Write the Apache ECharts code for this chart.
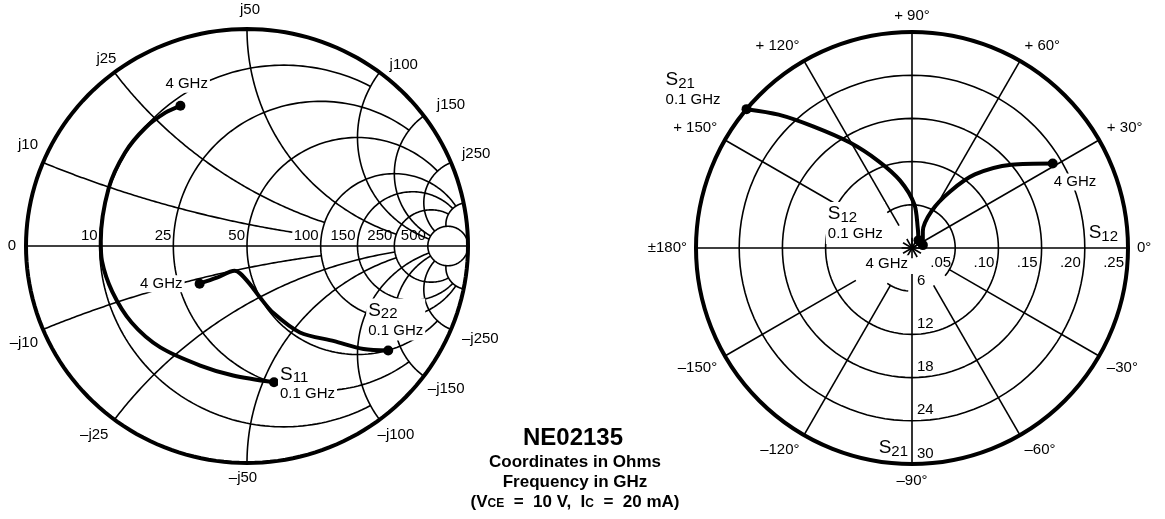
<!DOCTYPE html>
<html>
<head>
<meta charset="utf-8">
<title>NE02135 S-parameters</title>
<script src="https://cdn.jsdelivr.net/npm/echarts@6/dist/echarts.min.js"></script>
<style>
  html, body { margin: 0; padding: 0; background: #fff; }
  #chart { width: 1165px; height: 519px; }
</style>
</head>
<body>
<div id="chart"></div>
<script>
// ---- Measured S-parameters, 0.1 GHz to 4 GHz (magnitude, angle in degrees) ----
const s11Mag = [0.64, 0.60, 0.59, 0.61, 0.63, 0.645, 0.66, 0.662, 0.68, 0.70, 0.713, 0.717, 0.713];
const s11Ang = [-79, -96, -111, -130, -146, -161, -174, 178, 157, 142, 130, 121, 115];
const s22Mag = [0.80, 0.71, 0.59, 0.465, 0.33, 0.245, 0.175, 0.13, 0.127, 0.20, 0.276];
const s22Ang = [-37, -42, -48, -59, -69, -76, -86, -104, -116, -133, -141];
const s21Mag = [30, 26.2, 21.7, 17.0, 12.9, 9.5, 6.1, 2.9, 1.4];
const s21Ang = [140, 135, 129, 120.5, 111, 100, 87, 74, 50];
const s12Mag = [0.013, 0.023, 0.049, 0.079, 0.112, 0.150, 0.19];
const s12Ang = [15, 57, 62, 56, 49.5, 40, 31];

// ---- Smith chart grid (ohms, Z0 = 50) ----
const Z0 = 50;
const resistanceOhms = [10, 25, 50, 100, 150, 250, 500];
const resistanceStopX = [100, 150, 250, 500, 500, 500, Infinity];
const reactanceOhms = [10, 25, 50, 100, 150, 250, 500];
const reactanceStopUpper = [75, 100, 250, 500, 500, 500, 500];
const reactanceStopLower = [100, 250, 250, 500, 500, 500, 500];
const resistanceLabels = ['0', '10', '25', '50', '100', '150', '250', '500'];
const resistanceLabelValues = [0, 10, 25, 50, 100, 150, 250, 500];
const reactanceLabelValues = [10, 25, 50, 100, 150, 250];

// ---- Polar chart scales ----
const s12Rings = [0.05, 0.10, 0.15, 0.20, 0.25];
const s12RingLabels = ['.05', '.10', '.15', '.20', '.25'];
const s21Rings = [6, 12, 18, 24, 30];
const angleTicks = [0, 30, 60, 90, 120, 150, 180, 210, 240, 270, 300, 330];
const angleTickLabels = ['0°', '+ 30°', '+ 60°', '+ 90°', '+ 120°', '+ 150°', '±180°', '–150°', '–120°', '–90°', '–60°', '–30°'];

const FONT = '"Liberation Sans", Arial, Helvetica, sans-serif';
const INK = '#000';
const rad = d => d * Math.PI / 180;

// normalized impedance -> reflection coefficient
function gam(r, x) {
  const d = (r + 1) * (r + 1) + x * x;
  return [(r * r + x * x - 1) / d, 2 * x / d];
}
// constant-resistance circle, both halves, cut where |X| reaches xStop
function resistanceCircle(R, xStop) {
  const r = R / Z0, c = r / (1 + r), rr = 1 / (1 + r);
  let a = 0;
  if (isFinite(xStop)) { const g = gam(r, xStop / Z0); a = Math.atan2(g[1], g[0] - c); }
  const pts = [], n = 160;
  for (let i = 0; i <= n; i++) {
    const t = a + (2 * Math.PI - 2 * a) * i / n;
    pts.push([c + rr * Math.cos(t), rr * Math.sin(t)]);
  }
  return pts;
}
// constant-reactance arc from the rim (R = 0) to R = rStop
function reactanceArc(X, rStop) {
  const x = X / Z0, cy = 1 / x, rr = Math.abs(1 / x);
  const ang = r => {
    const g = gam(r, x);
    let p = Math.atan2(g[1] - cy, g[0] - 1);
    if (x > 0 && p > 0) p -= 2 * Math.PI;
    if (x < 0 && p < 0) p += 2 * Math.PI;
    return p;
  };
  const p0 = ang(0);
  const p1 = isFinite(rStop) ? ang(rStop / Z0) : (x > 0 ? -Math.PI / 2 : Math.PI / 2);
  const pts = [], n = 120;
  for (let i = 0; i <= n; i++) {
    const t = p0 + (p1 - p0) * i / n;
    pts.push([1 + rr * Math.cos(t), cy + rr * Math.sin(t)]);
  }
  return pts;
}

const smithGrid = [];
resistanceOhms.forEach((R, i) => smithGrid.push({ coords: resistanceCircle(R, resistanceStopX[i]) }));
reactanceOhms.forEach((X, i) => {
  smithGrid.push({ coords: reactanceArc(X, reactanceStopUpper[i]) });
  smithGrid.push({ coords: reactanceArc(-X, reactanceStopLower[i]) });
});
smithGrid.push({ coords: [[-1, 0], [1, 0]] });

const rim = [];
for (let i = 0; i <= 360; i += 2) rim.push([Math.cos(rad(i)), Math.sin(rad(i))]);

const toXY = (mag, ang) => mag.map((m, i) => [m * Math.cos(rad(ang[i])), m * Math.sin(rad(ang[i]))]);

const rich = {
  S: { fontSize: 19, fontFamily: FONT, color: INK },
  sub: { fontSize: 15, fontFamily: FONT, color: INK, padding: [7, 0, 0, 0] },
  f: { fontSize: 15, fontFamily: FONT, color: INK, lineHeight: 18 }
};

function endLabel(text, pos, align, vAlign, bg) {
  return {
    show: true, formatter: text, position: pos, align: align, verticalAlign: vAlign,
    rich: rich, fontFamily: FONT, fontSize: 15, color: INK,
    backgroundColor: bg ? '#fff' : 'transparent', padding: bg ? [1, 2] : 0
  };
}

function traceData(points, firstLabel, lastLabel) {
  return points.map((p, i) => {
    const item = { value: p };
    if (i === 0 && firstLabel) item.label = firstLabel;
    if (i === points.length - 1 && lastLabel) item.label = lastLabel;
    return item;
  });
}

const s11Pts = toXY(s11Mag, s11Ang);
const s22Pts = toXY(s22Mag, s22Ang);
const s21Pts = s21Mag.map((m, i) => [m, (s21Ang[i] + 360) % 360]);
const s12Pts = s12Mag.map((m, i) => [m, (s12Ang[i] + 360) % 360]);

const traceStyle = {
  symbol: 'circle',
  smooth: 0.3,
  lineStyle: { color: INK, width: 4 },
  itemStyle: { color: INK, opacity: 1 },
  label: { show: false },
  z: 4,
  animation: false
};
const dotSize = n => (v, p) => (p.dataIndex === 0 || p.dataIndex === n - 1) ? 10 : 0;
const plainLabel = { show: true, fontSize: 15, fontFamily: FONT, color: INK, opacity: 1 };

// Smith axis and rim labels
const axisLabelData = resistanceLabelValues.map((R, i) => ({
  value: [(R / Z0 - 1) / (R / Z0 + 1), 0],
  label: i === 0
    ? { formatter: resistanceLabels[i], position: [-10, 0], align: 'right', verticalAlign: 'middle' }
    : { formatter: resistanceLabels[i], position: [-2, -3], align: 'right', verticalAlign: 'bottom' }
}));
const rimLabelUpper = [
  { position: [-5, -10], align: 'right', verticalAlign: 'bottom' },
  { position: [-8, -6], align: 'center', verticalAlign: 'bottom' },
  { position: [3, -12], align: 'center', verticalAlign: 'bottom' },
  { position: [10, 0], align: 'left', verticalAlign: 'bottom' },
  { position: [13, -3], align: 'left', verticalAlign: 'bottom' },
  { position: [11, -1], align: 'left', verticalAlign: 'bottom' }
];
const rimLabelLower = [
  { position: [-5, 6], align: 'right', verticalAlign: 'top' },
  { position: [-6, 8], align: 'right', verticalAlign: 'top' },
  { position: [-4, 7], align: 'center', verticalAlign: 'top' },
  { position: [-2, 8], align: 'left', verticalAlign: 'top' },
  { position: [4, 5], align: 'left', verticalAlign: 'top' },
  { position: [11, 2], align: 'left', verticalAlign: 'top' }
];
const rimLabelData = [];
reactanceLabelValues.forEach((X, i) => {
  const up = gam(0, X / Z0), dn = gam(0, -X / Z0);
  rimLabelData.push({ value: up, label: Object.assign({ formatter: 'j' + X }, rimLabelUpper[i]) });
  rimLabelData.push({ value: dn, label: Object.assign({ formatter: '–j' + X }, rimLabelLower[i]) });
});

// Polar grid pieces (in S12 units)
const ringArcs = [[0.05, 0, 125], [0.05, 320, 360], [0.05, 235, 265], [0.10, 0, 360], [0.15, 0, 360], [0.20, 0, 360]];
const spokes = [[30, 0], [60, 0.05], [90, 0], [120, 0.03], [150, 0.10], [210, 0.075], [240, 0.05], [270, 0.03], [300, 0.05], [330, 0.05]];
const polarGridSeries = [];
const gridLine = { color: INK, width: 1.6 };
ringArcs.forEach(([r, a0, a1]) => {
  const d = [];
  for (let a = a0; a <= a1; a += 3) d.push([r, a]);
  if (d[d.length - 1][1] !== a1) d.push([r, a1]);
  polarGridSeries.push({ type: 'line', coordinateSystem: 'polar', polarIndex: 0, data: d, showSymbol: false, symbol: 'none', lineStyle: gridLine, silent: true, z: 1, animation: false });
});
spokes.forEach(([a, r0]) => {
  polarGridSeries.push({ type: 'line', coordinateSystem: 'polar', polarIndex: 0, data: [[r0, a], [0.25, a]], symbol: 'none', lineStyle: gridLine, silent: true, z: 1, animation: false });
});
polarGridSeries.push({ type: 'line', coordinateSystem: 'polar', polarIndex: 0, data: [[0.25, 180], [0, 0], [0.25, 0]], symbol: 'none', lineStyle: gridLine, silent: true, z: 1, animation: false });
angleTicks.forEach(a => {
  polarGridSeries.push({ type: 'line', coordinateSystem: 'polar', polarIndex: 0, data: [[0, a], [0.012, a]], symbol: 'none', lineStyle: gridLine, silent: true, z: 1, animation: false });
});

const hiddenAxis = { axisLine: { show: false }, axisTick: { show: false }, axisLabel: { show: false }, splitLine: { show: false } };

const option = {
  backgroundColor: '#fff',
  animation: false,
  textStyle: { fontFamily: FONT, color: INK },
  title: [
    { text: 'NE02135', left: 568, top: 421, textAlign: 'center',
      textStyle: { fontSize: 24, fontWeight: 'bold', color: INK, fontFamily: FONT } },
    { text: 'Coordinates in Ohms\nFrequency in GHz\n(V{s|CE}  =  10 V,  I{s|C}  =  20 mA)', left: 570, top: 447, textAlign: 'center',
      textStyle: { fontSize: 17, fontWeight: 'bold', color: INK, fontFamily: FONT, lineHeight: 20,
        rich: { s: { fontSize: 12, fontWeight: 'bold', fontFamily: FONT, color: INK, padding: [4, 0, 0, 0] } } } }
  ],
  grid: { left: 26, top: 29, width: 442, height: 434 },
  xAxis: { type: 'value', min: -1, max: 1, show: false },
  yAxis: { type: 'value', min: -1, max: 1, show: false },
  polar: [
    { center: [912, 248], radius: 216 },
    { center: [912, 248], radius: 216 }
  ],
  angleAxis: [
    { polarIndex: 0, type: 'value', min: 0, max: 360, interval: 30, startAngle: 0, clockwise: false,
      axisLine: { show: true, lineStyle: { color: INK, width: 4 } },
      axisTick: { show: false }, splitLine: { show: false },
      axisLabel: { show: true, margin: 9, fontSize: 15, fontFamily: FONT, color: INK,
        formatter: v => { const i = angleTicks.indexOf(v); return i >= 0 && v < 360 ? angleTickLabels[i] : ''; } } },
    Object.assign({ polarIndex: 1, type: 'value', min: 0, max: 360, startAngle: 0, clockwise: false }, hiddenAxis)
  ],
  radiusAxis: [
    Object.assign({ polarIndex: 0, type: 'value', min: 0, max: 0.25 }, hiddenAxis),
    Object.assign({ polarIndex: 1, type: 'value', min: 0, max: 30 }, hiddenAxis)
  ],
  series: [
    // Smith chart grid
    { type: 'lines', coordinateSystem: 'cartesian2d', polyline: true, data: smithGrid,
      lineStyle: { color: INK, width: 1.6, opacity: 1 }, silent: true, z: 1, animation: false },
    { type: 'lines', coordinateSystem: 'cartesian2d', polyline: true, data: [{ coords: rim }],
      lineStyle: { color: INK, width: 4, opacity: 1 }, silent: true, z: 2, animation: false },
    // Smith labels
    { type: 'scatter', coordinateSystem: 'cartesian2d', symbolSize: 0, data: axisLabelData.concat(rimLabelData),
      itemStyle: { opacity: 1 }, label: plainLabel, silent: true, z: 6, animation: false },
    // S11 and S22
    Object.assign({ type: 'line', coordinateSystem: 'cartesian2d', name: 'S11', symbolSize: dotSize(s11Pts.length),
      data: traceData(s11Pts,
        endLabel('{S|S}{sub|11}\n{f|0.1 GHz}', [9, -15], 'left', 'top', true),
        endLabel('4 GHz', [-12, -25], 'left', 'top', true)) }, traceStyle),
    Object.assign({ type: 'line', coordinateSystem: 'cartesian2d', name: 'S22', symbolSize: dotSize(s22Pts.length),
      data: traceData(s22Pts,
        endLabel('{S|S}{sub|22}\n{f|0.1 GHz}', [-17, -47], 'left', 'top', true),
        endLabel('4 GHz', [-10, 5], 'right', 'middle', true)) }, traceStyle),
    // polar grid
    ...polarGridSeries,
    // ring labels and scale names
    { type: 'scatter', coordinateSystem: 'polar', polarIndex: 0, symbolSize: 0, itemStyle: { opacity: 1 },
      data: s12Rings.map((r, i) => ({ value: [r, 0], label: { formatter: s12RingLabels[i] } })),
      label: Object.assign({ position: [-4, 7], align: 'right', verticalAlign: 'top' }, plainLabel),
      silent: true, z: 6, animation: false },
    { type: 'scatter', coordinateSystem: 'polar', polarIndex: 1, symbolSize: 0, itemStyle: { opacity: 1 },
      data: s21Rings.map(r => ({ value: [r, 270], label: { formatter: String(r) } })),
      label: Object.assign({ position: [5, -3], align: 'left', verticalAlign: 'bottom' }, plainLabel),
      silent: true, z: 6, animation: false },
    { type: 'scatter', coordinateSystem: 'polar', polarIndex: 0, symbolSize: 0, itemStyle: { opacity: 1 },
      data: [{ value: [0.25, 0] }],
      label: Object.assign({}, plainLabel, { formatter: '{S|S}{sub|12}', position: [-10, -4], align: 'right', verticalAlign: 'bottom', rich: rich }),
      silent: true, z: 6, animation: false },
    { type: 'scatter', coordinateSystem: 'polar', polarIndex: 1, symbolSize: 0, itemStyle: { opacity: 1 },
      data: [{ value: [30, 270] }],
      label: Object.assign({}, plainLabel, { formatter: '{S|S}{sub|21}', position: [-4, -5], align: 'right', verticalAlign: 'bottom', rich: rich }),
      silent: true, z: 6, animation: false },
    // S21 and S12
    Object.assign({ type: 'line', coordinateSystem: 'polar', polarIndex: 1, name: 'S21', symbolSize: dotSize(s21Pts.length),
      data: traceData(s21Pts,
        endLabel('{S|S}{sub|21}\n{f|0.1 GHz}', [-76, -35], 'left', 'top', false),
        endLabel('4 GHz', [-50, 20], 'left', 'top', true)) }, traceStyle),
    Object.assign({ type: 'line', coordinateSystem: 'polar', polarIndex: 0, name: 'S12', symbolSize: dotSize(s12Pts.length),
      data: traceData(s12Pts,
        endLabel('{S|S}{sub|12}\n{f|0.1 GHz}', [-92, -38], 'left', 'top', true),
        endLabel('4 GHz', [4, 15], 'left', 'top', true)) }, traceStyle)
  ]
};

const chart = echarts.init(document.getElementById('chart'), null, { renderer: 'canvas' });
chart.setOption(option);
</script>
</body>
</html>
